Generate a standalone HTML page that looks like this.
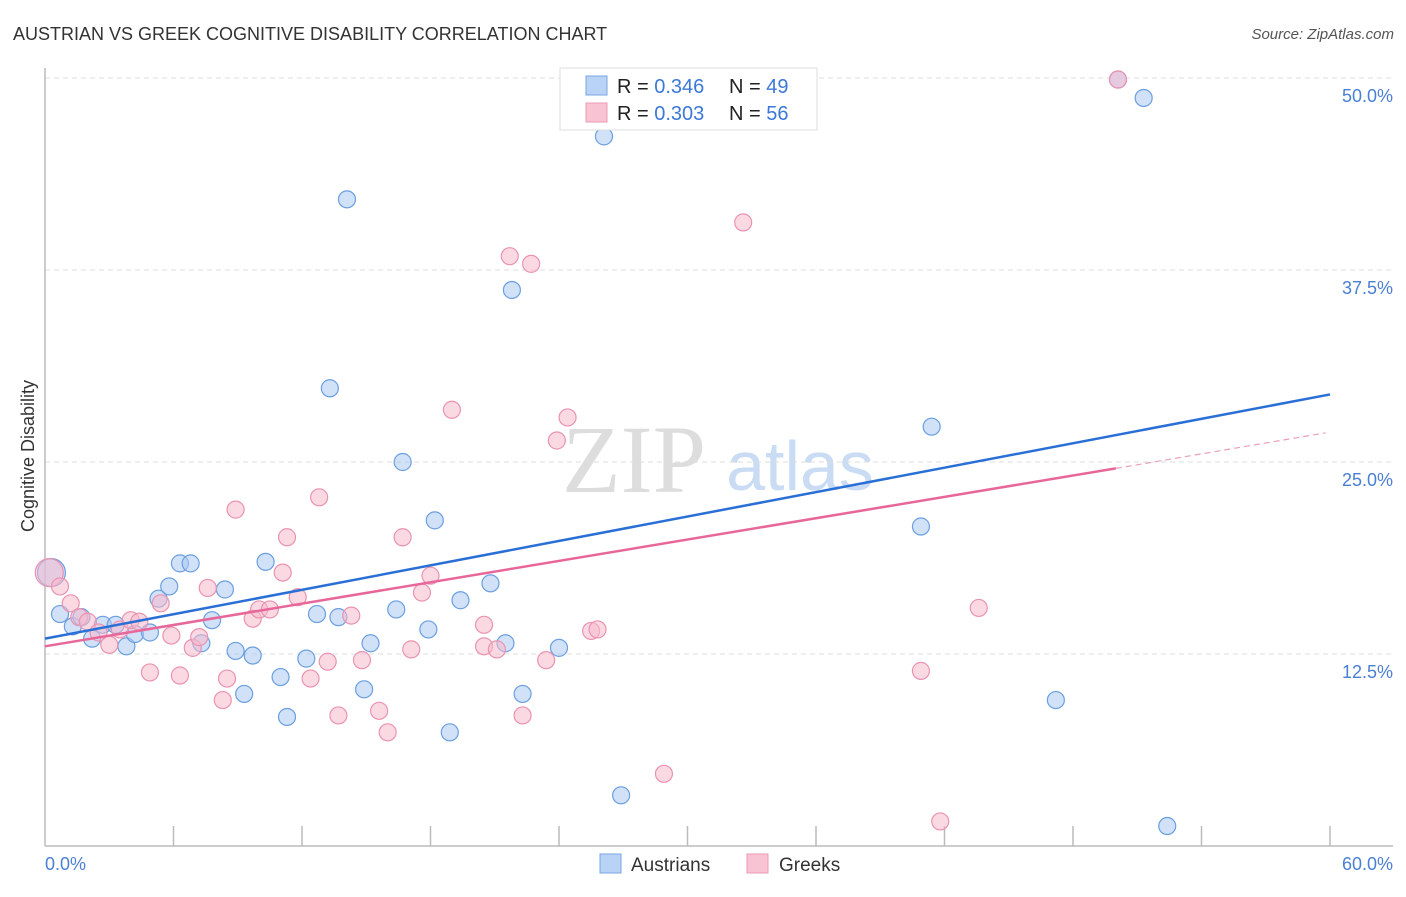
<!DOCTYPE html>
<html><head><meta charset="utf-8"><style>
body{margin:0;background:#fff;font-family:"Liberation Sans",sans-serif}
</style></head><body>
<svg id="c" width="1406" height="892" xmlns="http://www.w3.org/2000/svg" font-family="Liberation Sans, sans-serif">
<text x="13" y="40" font-size="18" fill="#333">AUSTRIAN VS GREEK COGNITIVE DISABILITY CORRELATION CHART</text>
<text x="1394" y="39" font-size="15" fill="#555" text-anchor="end" font-style="italic">Source: ZipAtlas.com</text>
<text x="634" y="492" font-size="96" fill="#ddd" font-family="Liberation Serif, serif" text-anchor="middle">ZIP</text>
<text x="800" y="490" font-size="70" fill="#c9dcf3" text-anchor="middle">atlas</text>
<g id="grid"></g><g id="axes"></g><g id="pts"></g><g id="lines"></g>
<text transform="translate(34,456) rotate(-90)" font-size="18" fill="#333" text-anchor="middle">Cognitive Disability</text>
<text x="45" y="870" font-size="18" fill="#4a7fd4">0.0%</text>
<text x="1393" y="870" font-size="18" fill="#4a7fd4" text-anchor="end">60.0%</text>
<g>
<rect x="560" y="68" width="257" height="62" fill="#fff" stroke="#ddd"/>
<rect x="586" y="76" width="21" height="19" fill="#b8d3f5" stroke="#7aa6e3"/>
<rect x="586" y="103" width="21" height="19" fill="#f8c4d3" stroke="#eb9ab4"/>
<text x="617" y="93" font-size="20" fill="#222">R = <tspan fill="#3b78d8">0.346</tspan></text>
<text x="729" y="93" font-size="20" fill="#222">N = <tspan fill="#3b78d8">49</tspan></text>
<text x="617" y="120" font-size="20" fill="#222">R = <tspan fill="#3b78d8">0.303</tspan></text>
<text x="729" y="120" font-size="20" fill="#222">N = <tspan fill="#3b78d8">56</tspan></text>
</g>
<g>
<rect x="600" y="854" width="21" height="19" fill="#b8d3f5" stroke="#7aa6e3"/>
<text x="631" y="871" font-size="19" fill="#333">Austrians</text>
<rect x="747" y="854" width="21" height="19" fill="#f8c4d3" stroke="#eb9ab4"/>
<text x="779" y="871" font-size="19" fill="#333">Greeks</text>
</g>
</svg>
<script>
const yTicks=[12.5,25,37.5,50];
const yTickLabels=["12.5%","25.0%","37.5%","50.0%"];
const xTicks=[6,12,18,24,30,36,42,48,54,60];
const blueX=[0.3,0.7,1.3,1.7,2.2,2.7,3.3,3.8,4.2,4.9,5.3,5.8,6.3,6.8,7.3,7.8,8.4,8.9,9.3,9.7,10.3,11.0,11.3,12.2,12.7,13.3,13.7,14.1,14.9,15.2,16.4,16.7,17.9,18.2,18.9,19.4,20.8,21.5,21.8,22.3,24.0,26.1,26.9,40.9,41.4,47.2,50.1,51.3,52.4];
const blueY=[17.8,15.1,14.3,14.9,13.5,14.4,14.4,13.0,13.8,13.9,16.1,16.9,18.4,18.4,13.2,14.7,16.7,12.7,9.9,12.4,18.5,11.0,8.4,12.2,15.1,29.8,14.9,42.1,10.2,13.2,15.4,25.0,14.1,21.2,7.4,16.0,17.1,13.2,36.2,9.9,12.9,46.2,3.3,20.8,27.3,9.5,49.9,48.7,1.3];
const pinkX=[0.2,0.7,1.2,1.6,2.0,2.5,3.0,3.5,4.0,4.4,4.9,5.4,5.9,6.3,6.9,7.2,7.6,8.3,8.5,8.9,9.7,10.0,10.5,11.1,11.3,11.8,12.4,12.8,13.2,13.7,14.3,14.8,15.6,16.0,16.7,17.1,17.6,18.0,19.0,20.5,20.5,21.1,21.7,22.3,22.7,23.4,23.9,24.4,25.5,25.8,28.9,32.6,40.9,41.8,43.6,50.1];
const pinkY=[17.8,16.9,15.8,14.9,14.6,13.9,13.1,14.1,14.7,14.6,11.3,15.8,13.7,11.1,12.9,13.6,16.8,9.5,10.9,21.9,14.8,15.4,15.4,17.8,20.1,16.2,10.9,22.7,12.0,8.5,15.0,12.1,8.8,7.4,20.1,12.8,16.5,17.6,28.4,14.4,13.0,12.8,38.4,8.5,37.9,12.1,26.4,27.9,14.0,14.1,4.7,40.6,11.4,1.6,15.5,49.9];
const blueFit=[13.5,29.4];
const pinkFit=[13.0,26.9];
const pinkSolidEnd=50;
const X=v=>45+v/60*1285, Y=v=>846-v*15.36;
const NS="http://www.w3.org/2000/svg";
function mk(t,a,p){const e=document.createElementNS(NS,t);for(const k in a)e.setAttribute(k,a[k]);p.appendChild(e);return e;}
const grid=document.getElementById('grid'),axes=document.getElementById('axes'),pts=document.getElementById('pts'),lines=document.getElementById('lines');
yTicks.forEach((v,i)=>{
 const l=mk('line',{x1:45,x2:1393,y1:Y(v),y2:Y(v),stroke:'#ddd','stroke-dasharray':'5,4'},grid);
 
 
 const t=mk('text',{x:1393,y:Y(v)+24,'font-size':18,fill:'#4a7fd4','text-anchor':'end'},grid);
 t.textContent=yTickLabels[i];
 
 
});
const ya=mk('line',{x1:45,x2:45,y1:68,y2:846,stroke:'#bbb','stroke-width':1.5},axes);


const xa=mk('line',{x1:45,x2:1393,y1:846,y2:846,stroke:'#bbb','stroke-width':1.5},axes);


xTicks.forEach(v=>{
 const t=mk('line',{x1:X(v),x2:X(v),y1:826,y2:846,stroke:'#bbb','stroke-width':1.5},axes);
 
 
});
function dots(xs,ys,fill,stroke,name){
 xs.forEach((x,i)=>{
  const big=i===0;
  const c=mk('circle',{cx:X(x),cy:Y(ys[i]),r:big?14:8.5,fill:fill,'fill-opacity':0.55,stroke:stroke,'stroke-width':1.2},pts);
  
  
 });
}
dots(blueX,blueY,'#a9c9f2','#6b9fe0','austrian-point');
dots(pinkX,pinkY,'#f7b9cc','#ea93b0','greek-point');
const bl=mk('line',{x1:X(0),y1:Y(blueFit[0]),x2:X(60),y2:Y(blueFit[1]),stroke:'#2a6fd6','stroke-width':2.5},lines);


const pm=pinkFit[0]+(pinkFit[1]-pinkFit[0])*pinkSolidEnd/60;
const pl=mk('line',{x1:X(0),y1:Y(pinkFit[0]),x2:X(pinkSolidEnd),y2:Y(pm),stroke:'#e8679a','stroke-width':2.5},lines);


const pd=mk('line',{x1:X(pinkSolidEnd),y1:Y(pm),x2:X(59.8),y2:Y(pinkFit[1]),stroke:'#e8a0bb','stroke-width':1.2,'stroke-dasharray':'6,4'},lines);


</script>
</body></html>
